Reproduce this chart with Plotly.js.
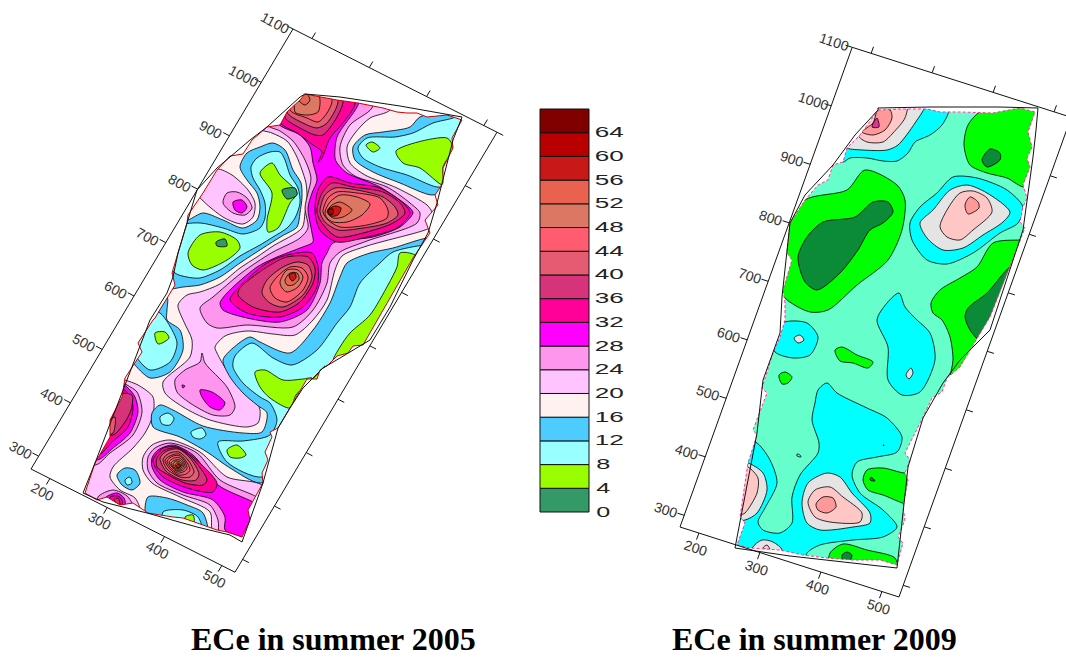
<!DOCTYPE html>
<html><head><meta charset="utf-8">
<script src="https://cdn.plot.ly/plotly-3.0.1.min.js"></script>
<style>html,body{margin:0;padding:0;background:#fff}#chart{width:1066px;height:658px}</style>
</head><body><div id="chart"></div>
<script>
// ---------- data ----------
const legendLevels = [0,4,8,12,16,20,24,28,32,36,40,44,48,52,56,60,64];
const legendLabels = ['0','4','8','12','16','20','24','28','32','36','40','44','48','52','56','60','64'];
const colors2005 = ['#339966','#99FF00','#99FFFF','#4DCCFF','#FFF1F0','#FFC4FF','#FF96EE','#FF00FF','#FF0099','#D6337A','#E55C72','#FF5C72','#DC7763','#E8624F','#C81818','#B80000','#800000'];
const colors2009 = {0:'#0B8A37',4:'#00FF00',8:'#66FFCC',12:'#00FFFF',16:'#E4E4E4',20:'#FFC6C6',24:'#FF9999',28:'#E0339A'};
const xTickValues = [200,300,400,500];
const yTickValues = [300,400,500,600,700,800,900,1000,1100];
const titleLeft = 'ECe in summer 2005';
const titleRight = 'ECe in summer 2009';

const outline2005 = [305,94,340,97,400,106,462,117,453,140,437,203,428,233,413,260,390,307,370,340,340,358,323,368,303,388,290,408,278,428,263,483,242,542,230,535,197,527,147,513,103,502,83,493,95,463,128,378,150,320,167,293,173,277,178,253,197,190,217,168,250,140,267,127,300,97];
const edge2005 = [305,94,320,97,337,100,358,103,383,108,397,112,407,113,417,113,427,117,447,115,462,120,452,138,453,148,443,168,443,183,435,195,438,205,425,220,430,233,413,258,363,345,353,346,348,353,337,356,328,365,320,370,317,379,307,379,290,408,278,428,270,432,272,437,265,452,268,460,262,473,263,483,248,510,250,520,242,537,227,532,217,530,203,525,183,518,173,517,160,515,148,513,133,503,120,505,107,497,97,500,85,493,95,463,110,437,110,420,122,397,125,378,142,352,138,343,153,320,155,318,175,285,172,273,187,223,188,215,203,193,217,170,230,156,243,154,252,140,267,127,280,125,287,112,300,100];
const bands2005 = [
 [20,[258,128,272,133,287,141,296,155,302,170,306,183,307,197,305,213,302,228,273,246,257,257,240,268,220,284,200,292,187,295,178,305,184,322,192,340,190,357,163,382,165,393,183,407,210,420,247,427,258,423,260,410,250,390,227,370,217,353,215,347,225,336,247,331,273,334,295,335,313,320,327,300,335,270,342,256,367,246,425,230,435,225,432,212,427,205,397,188,365,175,350,163,347,147,355,133,370,118,390,110,395,85,300,85]],
 [24,[268,125,280,131,293,141,305,160,311,178,308,193,305,208,308,228,300,238,273,252,257,262,240,274,213,297,200,308,207,323,217,328,247,325,293,327,313,310,327,283,330,263,340,252,367,241,417,223,420,213,410,203,387,187,355,176,343,165,340,147,350,125,372,108,375,85,300,85]],
 [28,[333,243,327,253,322,263,320,283,307,310,280,322,247,318,223,310,220,303,227,293,257,267,277,257,300,248,313,242,312,233,308,208,312,193,317,180,313,163,310,147,300,135,278,123,300,88,360,88,358,105,337,137,335,158,337,163,347,173,380,187,410,208,413,213,400,227,373,237]],
 [32,[280,122,297,133,313,145,322,152,318,162,322,158,330,138,343,123,355,103,340,88,290,88]],
 [36,[285,117,300,128,315,135,323,135,337,117,343,100,330,86,300,86]],
 [40,[287,112,303,123,317,128,327,123,338,100,320,86,300,86]],
 [44,[290,110,307,118,318,122,327,113,332,100,320,86,300,86]],
 [48,[295,112,308,115,318,112,320,100,315,86,300,86]],
 [52,[297,98,305,105,310,100,305,92]],
 [32,[315,212,318,190,328,177,350,183,380,188,403,203,410,213,397,228,367,237,337,242,320,230]],
 [36,[317,212,322,193,332,183,353,187,383,192,400,203,405,213,393,223,367,232,337,237,322,223]],
 [40,[320,212,325,195,335,188,357,190,383,197,395,207,398,215,387,223,363,228,338,230,325,222]],
 [44,[323,212,328,198,337,192,357,193,380,198,388,210,387,218,367,225,340,227,328,220]],
 [48,[325,212,330,202,340,195,357,197,370,204,362,215,347,222,333,222,327,218]],
 [52,[327,212,332,205,340,202,352,210,343,217,333,218]],
 [56,[328,210,335,206,341,208,338,215,331,216]],
 [60,[328,210,333,209,333,214,329,214]],
 [32,[230,300,238,288,267,263,287,255,312,253,318,267,317,287,303,307,280,317,247,313]],
 [36,[238,295,240,288,267,267,287,257,308,257,315,268,313,283,300,302,280,312,253,307]],
 [40,[262,293,267,280,283,267,297,262,308,265,312,277,303,295,283,307,270,303]],
 [44,[270,288,277,277,290,267,302,268,308,277,303,290,287,302,275,298]],
 [48,[280,282,287,270,298,270,303,277,298,287,287,292,282,288]],
 [52,[285,280,290,273,297,273,299,279,293,285,287,285]],
 [56,[289,275,295,273,296,278,292,281]],
 [24,[175,380,185,370,200,362,202,353,205,363,227,387,235,407,230,415,213,415,190,403,177,392]],
 [28,[200,390,212,392,225,403,220,410,210,407,202,397]],
 [28,[182,385,185,386,183,388]],
 [20,[217,169,232,175,248,190,255,203,253,217,243,224,223,217,195,190,205,178]],
 [24,[223,203,227,193,237,192,247,198,252,208,245,215,233,213]],
 [28,[233,202,242,200,247,207,242,213,235,210]],
 [20,[125,380,138,385,153,397,153,415,145,433,133,448,113,467,110,477,120,490,135,498,140,512,120,530,70,510,70,440,110,375]],
 [24,[127,385,137,392,142,412,133,435,110,453,95,465,60,440,100,370]],
 [28,[128,388,135,397,138,412,130,433,113,448,97,460,60,440,100,370]],
 [32,[128,393,133,407,128,427,112,442,98,455,60,440,100,380]],
 [36,[132,395,131,410,125,422,113,435,100,430,115,395]],
 [40,[110,420,115,417,113,433,105,435]],
 [24,[98,497,113,490,127,496,132,505,100,510]],
 [28,[105,498,117,493,124,498,125,505,105,505]],
 [32,[110,497,118,496,122,500,122,505,112,503]],
 [36,[114,500,118,498,120,505]],
 [20,[143,457,152,445,170,440,200,452,227,477,262,485,275,510,240,545,213,533,210,512,180,497,152,483,143,470]],
 [24,[148,457,155,448,170,443,197,453,220,480,257,497,275,510,250,545,220,535,218,520,210,505,183,495,157,483,148,470]],
 [28,[152,458,158,450,173,445,193,455,218,485,253,502,265,510,255,540,242,537,225,530,225,517,213,500,183,492,160,480,152,467]],
 [32,[153,460,163,448,177,447,193,457,217,483,213,492,187,488,163,477,155,467]],
 [36,[157,458,165,450,177,448,192,458,207,480,203,485,185,483,165,473,157,467]],
 [40,[160,458,167,451,178,449,190,458,199,474,196,480,182,480,166,471]],
 [40,[163,459,170,453,179,452,188,460,194,472,190,477,180,477,167,469]],
 [44,[165,460,172,455,179,454,186,461,190,470,186,474,178,475,169,468]],
 [44,[167,461,173,456,180,456,185,462,187,469,183,472,177,473,170,467]],
 [48,[169,462,174,458,180,458,184,463,185,468,181,471,176,471,172,467]],
 [48,[171,463,175,460,180,460,183,464,183,468,180,470,176,470,173,467]],
 [52,[173,464,176,461,180,462,182,465,181,468,178,469,175,468]],
 [52,[175,465,177,463,179,463,181,465,180,467,177,468]],
 [56,[176,466,178,464,180,465,180,467,178,468]],
 [12,[175,222,188,220,203,213,223,220,243,228,257,220,260,207,257,193,247,180,240,167,247,153,260,147,273,143,285,150,293,170,301,183,302,197,300,213,297,227,282,236,263,248,240,263,220,277,200,285,183,287,172,289,160,290,165,250]],
 [8,[180,226,200,223,223,228,243,234,260,228,265,218,265,203,260,190,253,178,251,167,257,158,270,152,280,152,285,160,290,175,298,188,300,203,295,218,287,228,273,237,260,245,247,252,240,256,220,270,200,278,187,277,175,273,165,255]],
 [4,[260,173,272,163,280,175,297,193,290,203,278,228,268,232,267,220,272,193]],
 [0,[282,190,295,188,297,195,287,199]],
 [4,[188,253,200,235,220,232,237,240,240,248,227,260,203,270,192,265]],
 [0,[216,242,225,239,227,246,217,246]],
 [12,[420,117,410,127,383,132,365,135,353,147,355,160,373,172,400,183,432,195,445,190,470,130,460,110]],
 [8,[453,118,433,123,413,133,395,137,367,138,358,148,363,158,380,167,407,175,437,187,447,185,480,130,465,112]],
 [4,[396,151,447,138,453,148,443,167,443,185,420,168,403,163]],
 [4,[366,145,372,142,380,148,373,152]],
 [12,[427,238,393,248,370,253,347,263,340,277,330,303,313,330,290,353,260,342,250,337,233,348,223,360,230,377,243,393,257,405,267,413,262,432,243,433,203,426,173,410,160,405,152,413,153,427,180,437,207,452,230,468,260,483,285,470,300,420,340,380,445,238]],
 [8,[425,245,393,252,380,263,360,283,350,307,337,323,317,350,292,365,273,358,252,343,235,356,233,367,243,383,260,397,270,403,277,420,270,435,243,441,218,442,227,462,262,477,290,450,345,385,440,245]],
 [4,[400,253,397,267,388,285,370,315,350,333,340,347,333,362,345,370,380,340,420,265,415,255]],
 [4,[255,372,265,370,283,380,303,379,312,378,296,395,290,408,270,398,260,387]],
 [4,[312,380,320,372,325,366,328,372,320,378]],
 [12,[183,350,180,330,167,320,167,310,167,297,150,300,130,360,133,363,150,378,170,372]],
 [8,[135,355,150,370,170,362,177,343,168,323,160,313,150,310,130,340]],
 [4,[155,333,165,332,169,338,158,344]],
 [12,[117,475,125,468,135,470,140,483,132,490,122,485]],
 [8,[125,480,130,477,132,483,127,485]],
 [8,[160,417,168,413,174,418,170,425,162,424]],
 [8,[191,432,202,428,206,435,200,439,193,437]],
 [4,[227,450,237,445,246,455,240,458,230,457]],
 [12,[148,497,167,498,187,505,203,513,207,535,150,530,145,515]],
 [8,[163,512,183,510,198,517,202,532,165,525]],
 [4,[185,517,193,515,194,522,188,523]]
];

const outline2009 = [878,108,930,107,1000,107,1038,108,1036,130,1033,157,1023,230,990,330,960,360,943,383,923,418,908,467,897,568,850,563,790,556,735,548,757,433,763,380,780,333,782,297,790,223,805,195,833,165,855,135,878,110];
const edge2009 = [878,110,903,109,927,109,940,112,960,112,993,113,1020,108,1035,112,1028,132,1032,147,1027,158,1030,167,1023,185,1027,198,1023,207,1020,222,1025,228,1010,267,990,317,960,367,947,378,942,392,932,398,923,417,905,453,910,460,905,473,908,480,903,507,905,520,898,537,903,543,897,565,880,560,853,560,827,558,803,555,780,550,750,548,737,545,745,523,740,517,748,463,757,435,753,430,767,393,762,388,773,353,780,337,785,320,785,303,783,290,792,260,787,253,790,223,805,200,818,185,828,180,833,165,843,162,847,148,860,135];
const bands2009 = [
 [12,[926,105,949,108,942,125,930,135,915,142,908,153,897,161,883,161,867,158,850,158,843,162,838,147,873,100]],
 [16,[907,105,925,105,915,123,898,145,887,150,863,150,847,148,840,140,873,103]],
 [20,[892,107,907,105,905,118,893,133,883,142,867,142,858,135,873,103]],
 [24,[878,110,890,110,892,118,885,130,873,135,862,132,873,123]],
 [28,[877,118,879,127,872,127]],
 [4,[983,110,968,125,964,145,970,165,987,173,1007,178,1025,187,1040,160,1040,105]],
 [0,[982,160,990,149,1000,153,1000,160,987,167]],
 [4,[805,200,847,190,865,170,897,185,905,200,902,230,888,260,857,285,828,310,810,312,785,298,775,277,785,233]],
 [0,[798,257,807,237,823,222,855,217,873,202,888,202,893,212,883,223,870,230,858,250,840,273,817,290,805,282]],
 [12,[910,223,920,207,937,193,953,177,977,178,1007,190,1023,207,1018,223,1000,233,973,253,947,264,927,260,912,240]],
 [16,[920,223,933,210,950,190,967,185,987,193,1010,212,1003,222,983,235,963,248,943,250,927,238]],
 [20,[940,227,947,210,960,193,973,191,987,198,992,212,973,230,960,240,947,237]],
 [24,[965,205,970,197,978,202,979,208,968,214]],
 [4,[931,303,940,290,960,278,977,267,993,243,1020,240,1040,240,1000,340,950,385,950,377,953,360,950,337,942,320,933,313]],
 [0,[965,317,968,308,987,293,1010,267,1020,265,990,350,983,345,970,330]],
 [12,[877,320,887,303,899,293,905,307,917,320,930,333,935,360,920,392,902,395,888,380,888,347]],
 [16,[906,375,911,368,913,373,909,379]],
 [12,[785,322,807,323,818,337,810,355,793,358,775,352,770,335]],
 [16,[794,338,800,335,804,340,798,343]],
 [4,[835,350,842,347,857,355,873,362,868,368,853,363,840,361]],
 [4,[779,375,785,372,792,377,788,383,782,384]],
 [12,[818,390,827,383,837,393,867,408,887,418,902,437,897,452,877,457,857,462,852,475,860,493,883,510,897,527,883,537,853,540,820,545,807,553,800,575,730,570,725,540,745,440,757,443,770,460,777,483,765,508,758,522,763,530,780,533,792,523,792,497,800,475,818,453,819,443,812,420,815,403]],
 [8,[797,454,800,455,801,457,797,456]],
 [8,[883,445,884,445,884,446]],
 [4,[863,480,867,470,883,468,905,473,920,470,915,505,883,495,868,490]],
 [0,[870,480,875,481,871,477]],
 [16,[802,503,808,483,827,473,840,477,852,493,870,513,870,523,853,527,820,530,807,523]],
 [20,[808,502,815,490,830,487,843,497,862,513,860,522,830,522,815,517]],
 [24,[816,504,823,497,833,498,836,507,827,513,818,510]],
 [16,[748,463,763,473,767,490,757,513,745,520,725,520,735,463]],
 [20,[748,467,758,478,757,493,745,513,740,515,725,515,735,465]],
 [16,[752,548,762,540,773,542,782,550,775,560,750,560]],
 [20,[763,548,767,545,770,550]],
 [4,[830,553,843,544,867,550,895,558,897,570,830,565]],
 [0,[842,555,847,552,852,555,850,560,843,560]]
];

// ---------- helpers ----------
const xs = a => a.filter((_, i) => i % 2 === 0);
const ys = a => a.filter((_, i) => i % 2 === 1);
const closeX = a => { const v = xs(a); return v.concat(v[0]); };
const closeY = a => { const v = ys(a); return v.concat(v[0]); };

const traces = [];
function region(coords, color) {
  traces.push({type:'scatter', mode:'lines', x:closeX(coords), y:closeY(coords), fill:'toself', fillcolor:color,
    line:{color:'#000', width:0.8, shape:'spline', smoothing:0.8}, hoverinfo:'skip', showlegend:false});
}
function base(coords, color) {
  traces.push({type:'scatter', mode:'lines', x:closeX(coords), y:closeY(coords), fill:'toself', fillcolor:color,
    line:{width:0}, hoverinfo:'skip', showlegend:false});
}
function mask(coords, box) {
  const ex = closeX(coords).reverse(), ey = closeY(coords).reverse();
  const [x0,y0,x1,y1] = box;
  traces.push({type:'scatter', mode:'lines', x:[x0,x1,x1,x0,x0].concat(ex,[x0]), y:[y0,y0,y1,y1,y0].concat(ey,[y0]),
    fill:'toself', fillcolor:'#fff', line:{width:0}, hoverinfo:'skip', showlegend:false});
}
function pathLine(coords, color, width, dash) {
  traces.push({type:'scatter', mode:'lines', x:closeX(coords), y:closeY(coords),
    line:{color, width, dash:dash||'solid'}, hoverinfo:'skip', showlegend:false});
}
const annotations = [];
function frame(p) {
  const X = p.dx, Y = p.dy;
  const at = (x, y) => [p.ox + (x - p.xmin) * X[0] + (y - p.ymin) * Y[0], p.oy + (x - p.xmin) * X[1] + (y - p.ymin) * Y[1]];
  const c = [at(p.xmin,p.ymin), at(p.xmax,p.ymin), at(p.xmax,p.ymax), at(p.xmin,p.ymax), at(p.xmin,p.ymin)];
  traces.push({type:'scatter', mode:'lines', x:c.map(d=>d[0]), y:c.map(d=>d[1]), line:{color:'#111',width:1}, hoverinfo:'skip', showlegend:false});
  const tx=[], ty=[];
  const seg = (a,d) => { tx.push(a[0],a[0]+d[0],null); ty.push(a[1],a[1]+d[1],null); };
  xTickValues.forEach(v => {
    const b = at(v,p.ymin), t = at(v,p.ymax);
    seg(b,[-p.tickY[0],-p.tickY[1]]); seg(t,p.tickY);
    annotations.push({x:b[0]+p.labX[0], y:b[1]+p.labX[1], xref:'x', yref:'y', text:String(v), showarrow:false, textangle:p.angle,
      font:{family:'Liberation Sans, Arial, sans-serif', size:14, color:'#333'}});
  });
  yTickValues.forEach(v => {
    const l = at(p.xmin,v), r = at(p.xmax,v);
    seg(l,[-p.tickX[0],-p.tickX[1]]); seg(r,p.tickX);
    annotations.push({x:l[0]+p.labY[0], y:l[1]+p.labY[1], xref:'x', yref:'y', text:String(v), showarrow:false, textangle:p.angle,
      font:{family:'Liberation Sans, Arial, sans-serif', size:14, color:'#333'}});
  });
  traces.push({type:'scatter', mode:'lines', x:tx, y:ty, line:{color:'#111',width:1}, hoverinfo:'skip', showlegend:false});
}

// ---------- legend (first, so annotation indices are known) ----------
const legendTop = 109, legendBottom = 512, legendStep = (legendBottom - legendTop) / legendLevels.length;
const legendPos = l => legendBottom - l / 4 * legendStep;
traces.push({type:'bar', x:legendLevels.map(()=>564.5), y:legendLevels.map(()=>-legendStep), base:legendLevels.map(legendPos), width:49,
  marker:{color:colors2005, line:{color:'#111', width:1}}, hoverinfo:'skip', showlegend:false});
legendLevels.forEach((l,i) => {
  annotations.push({x:legendLabels[i].length>1?609.5:602.5, y:legendPos(l)-1, xref:'x', yref:'y', text:legendLabels[i], showarrow:false,
    font:{family:'Liberation Sans, Arial, sans-serif', size:15, color:'#222'}});
});
const legendCount = annotations.length;

// ---------- 2005 panel ----------
base(edge2005, colors2005[4]);
bands2005.forEach(b => region(b[1], colors2005[legendLevels.indexOf(b[0])]));
mask(edge2005, [10,10,525,625]);
pathLine(edge2005, '#CC0000', 1);
pathLine(outline2005, '#111', 1);
frame({ox:31, oy:469, xmin:167, ymin:276, xmax:523, ymax:1100, dx:[0.573,0.290], dy:[0.318,-0.534],
  tickX:[6.2,3.2], tickY:[3.6,-6], labX:[-7,13], labY:[-18,-6], angle:28});

// ---------- 2009 panel ----------
base(edge2009, colors2009[8]);
bands2009.forEach(b => region(b[1], colors2009[b[0]]));
mask(edge2009, [640,20,1066,625]);
pathLine(edge2009, '#FF3399', 1, '3px,2px');
pathLine(outline2009, '#111', 1);
frame({ox:680, oy:527, xmin:169, ymin:280, xmax:528, ymax:1100, dx:[0.61,0.195], dy:[0.21,-0.585],
  tickX:[6.7,2.1], tickY:[2.4,-6.6], labX:[-3,15], labY:[-18,-5], angle:18});

// ---------- titles ----------
[[titleLeft,333.5],[titleRight,814.5]].forEach(t => annotations.push({x:t[1], y:639, xref:'x', yref:'y', borderpad:0, text:'<b>'+t[0]+'</b>', showarrow:false,
  font:{family:'Liberation Serif, Times New Roman, serif', size:32, color:'#000'}}));

Plotly.newPlot('chart', traces, {
  width:1066, height:658, margin:{l:0,r:0,t:0,b:0}, paper_bgcolor:'#fff', plot_bgcolor:'#fff', showlegend:false, barmode:'overlay',
  xaxis:{range:[0,1066], visible:false, fixedrange:true},
  yaxis:{range:[658,0], visible:false, fixedrange:true},
  annotations
}, {displayModeBar:false, staticPlot:true}).then(() => {
  document.querySelectorAll('#chart .annotation').forEach(g => {
    const i = +g.getAttribute('data-index');
    if (i < legendCount) {
      const t = g.querySelector('text');
      t.setAttribute('textLength', legendLabels[i].length>1 ? 29 : 14);
      t.setAttribute('lengthAdjust','spacingAndGlyphs');
    }
  });
});
</script></body></html>
